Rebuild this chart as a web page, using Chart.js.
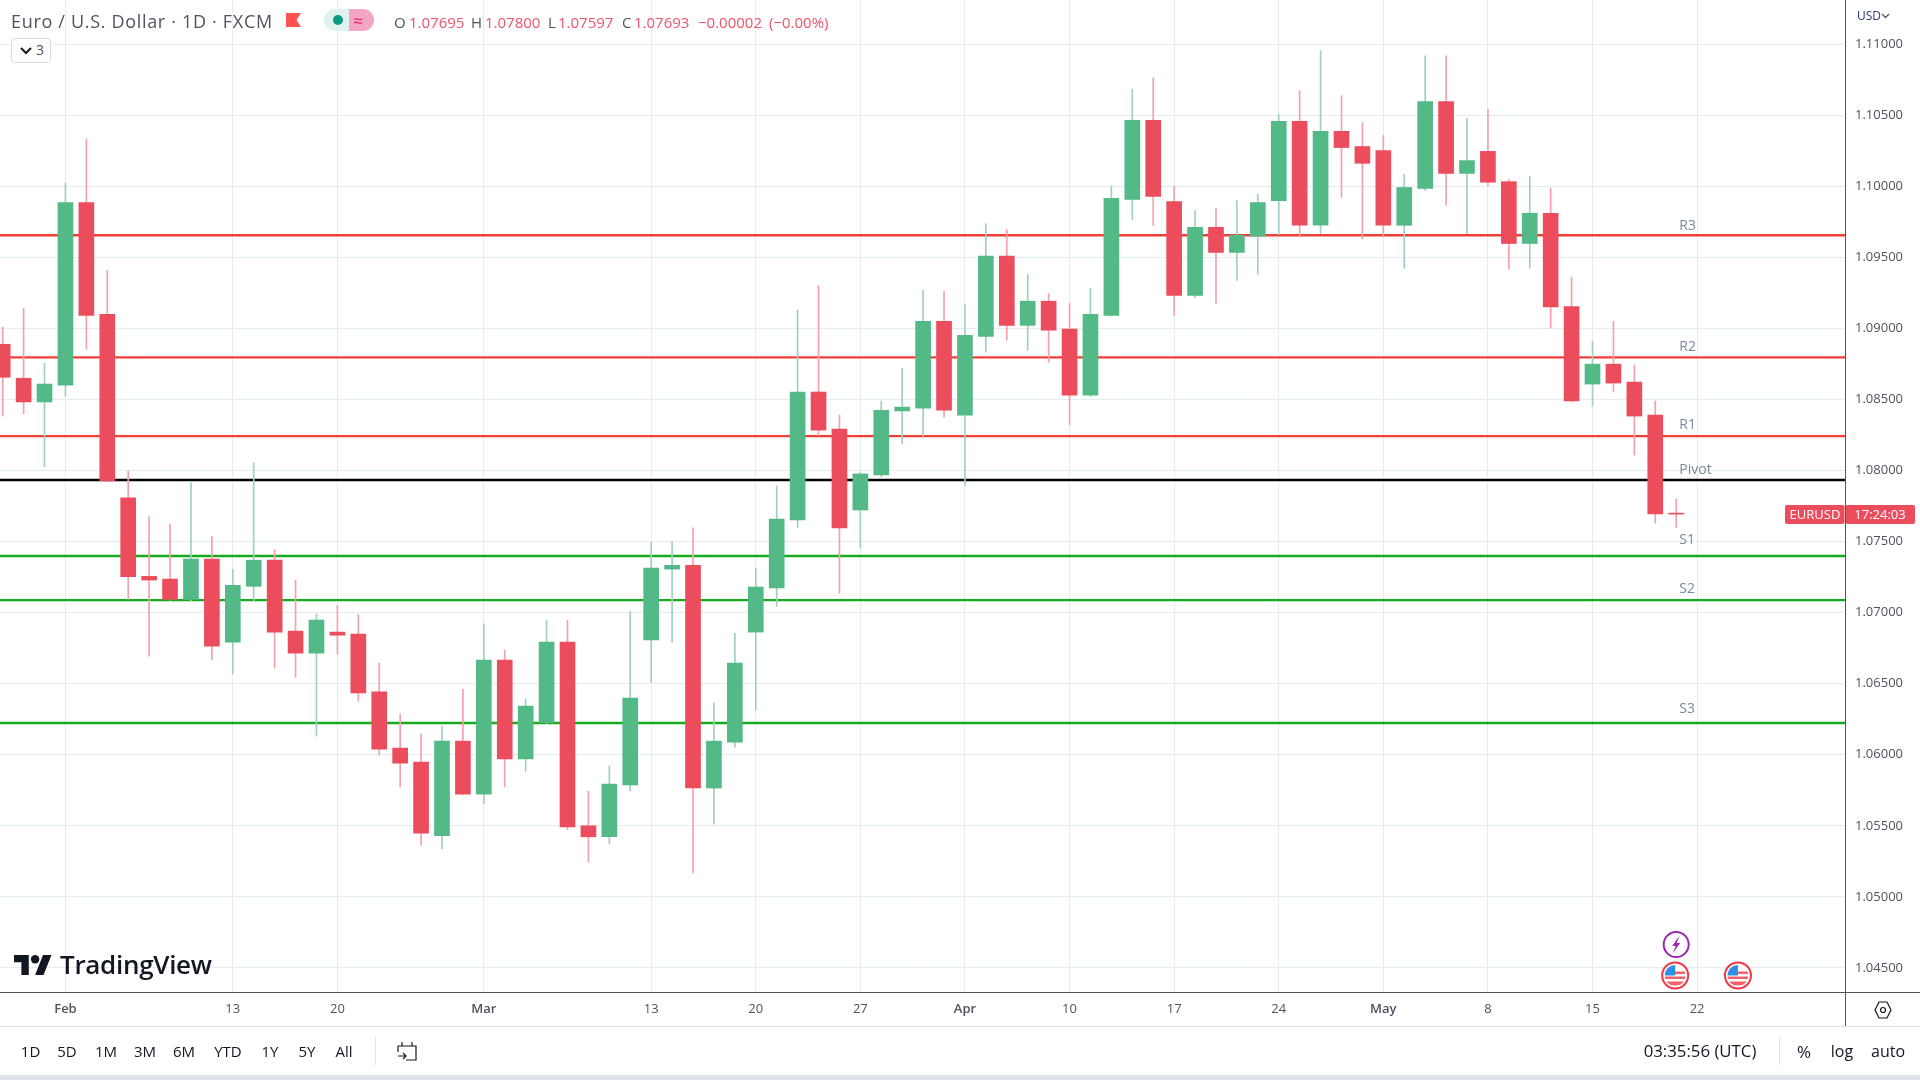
<!DOCTYPE html>
<html><head><meta charset="utf-8">
<script src="https://cdn.jsdelivr.net/npm/chart.js@4/dist/chart.umd.js"></script>
<style>
html,body{margin:0;padding:0;background:#fff;width:1920px;height:1080px;overflow:hidden;font-family:"Open Sans",sans-serif;color:#131722}
#c{position:absolute;left:0;top:0}
.t{position:absolute;white-space:nowrap;line-height:1}
.r{position:absolute}
</style></head><body>
<canvas id="c" width="1920" height="1080"></canvas>
<div id="ui"></div>
<script>
const opens=[1.08888,1.08649,1.08482,1.08600,1.09885,1.09099,1.07807,1.07255,1.07236,1.07093,1.07377,1.06793,1.07185,1.07369,1.06870,1.06715,1.06863,1.06849,1.06442,1.06047,1.05948,1.05430,1.06096,1.05723,1.06667,1.05970,1.06226,1.06793,1.05500,1.05423,1.05788,1.06808,1.07306,1.07333,1.05766,1.06088,1.06863,1.07173,1.07652,1.08552,1.08291,1.07722,1.07969,1.08419,1.08438,1.09050,1.08390,1.08944,1.09508,1.09021,1.09191,1.08995,1.08530,1.09091,1.09907,1.10463,1.09892,1.09232,1.09711,1.09534,1.09648,1.09899,1.10456,1.09725,1.10386,1.10279,1.10250,1.09725,1.09984,1.10596,1.10090,1.10245,1.10032,1.09597,1.09810,1.09154,1.08608,1.08748,1.08622,1.08390,1.07695];
const closes=[1.08656,1.08482,1.08608,1.09885,1.09091,1.07926,1.07253,1.07229,1.07093,1.07377,1.06764,1.07192,1.07369,1.06863,1.06715,1.06948,1.06841,1.06435,1.06040,1.05941,1.05449,1.06096,1.05723,1.06667,1.05970,1.06343,1.06793,1.05493,1.05423,1.05793,1.06398,1.07314,1.07333,1.05766,1.06096,1.06645,1.07180,1.07659,1.08552,1.08284,1.07596,1.07976,1.08424,1.08446,1.09050,1.08424,1.08951,1.09508,1.09021,1.09191,1.08987,1.08530,1.09099,1.09914,1.10463,1.09928,1.09232,1.09711,1.09534,1.09655,1.09885,1.10456,1.09725,1.10386,1.10272,1.10161,1.09725,1.09991,1.10596,1.10090,1.10180,1.10028,1.09597,1.09810,1.09150,1.08489,1.08748,1.08615,1.08383,1.07695,1.07693];
const highs=[1.09007,1.0914,1.08755,1.10023,1.10328,1.09408,1.07996,1.07676,1.07621,1.07913,1.07536,1.07304,1.08054,1.07444,1.07229,1.06989,1.0705,1.06989,1.06645,1.06287,1.06146,1.06202,1.06461,1.06921,1.06737,1.06391,1.06948,1.06948,1.05745,1.05921,1.07008,1.07495,1.075,1.07597,1.06364,1.06855,1.07314,1.07892,1.09128,1.09302,1.0839,1.0799,1.08489,1.08719,1.09268,1.09261,1.09169,1.09737,1.09696,1.09379,1.09246,1.09176,1.09283,1.10003,1.10681,1.10761,1.09999,1.09829,1.09844,1.09899,1.09943,1.10504,1.10673,1.10954,1.10637,1.10448,1.10357,1.10083,1.10918,1.10918,1.10475,1.1054,1.10047,1.10069,1.09986,1.0936,1.0891,1.0905,1.08741,1.08489,1.078];
const lows=[1.08383,1.084,1.08027,1.08523,1.08854,1.0792,1.07093,1.06694,1.07088,1.0708,1.06667,1.0657,1.07084,1.06609,1.06546,1.06132,1.06708,1.06379,1.05999,1.05774,1.05364,1.05338,1.0572,1.05657,1.05774,1.05885,1.0622,1.05473,1.05246,1.05372,1.05745,1.0651,1.06793,1.05168,1.05512,1.06054,1.06313,1.07045,1.07599,1.08245,1.07137,1.07456,1.07955,1.08189,1.08242,1.08375,1.07894,1.08833,1.08917,1.08847,1.08762,1.08322,1.0852,1.09087,1.09766,1.09725,1.09091,1.09215,1.09176,1.09338,1.09379,1.0966,1.09643,1.09667,1.09921,1.09628,1.09643,1.09423,1.0997,1.09866,1.09667,1.10003,1.09416,1.09423,1.09002,1.08482,1.08453,1.08552,1.08109,1.0763,1.07597];
const levelNames=['R3','R2','R1','Pivot','S1','S2','S3'];
const levelValues=[1.09655,1.08796,1.08242,1.07933,1.07398,1.07088,1.06224];
const levelColors=['#f23f35','#f23f35','#f23f35','#000000','#16ab1e','#16ab1e','#16ab1e'];
const levelLabelGap=[9,10,11,10,16,11,14];
const yTicks=[1.045,1.05,1.055,1.06,1.065,1.07,1.075,1.08,1.085,1.09,1.095,1.10,1.105,1.11];
const xTickIndex=[3,11,16,23,31,36,41,46,51,56,61,66,71,76,81];
const xTickLabels=['Feb','13','20','Mar','13','20','27','Apr','10','17','24','May','8','15','22'];
const monthLabels=['Feb','Mar','Apr','May'];
const newsIndex=80, flagIndexes=[80,83];
const lastPrice=1.07693;
const X_MIN=-0.129, X_MAX=88.07, Y_MIN=1.04331, Y_MAX=1.1131;
const UP='#53b987', DOWN='#eb4d5c', UPW='#9fcfc4', DOWNW='#f5a0aa', GRID='#e4ebf1';

const idx=opens.map((_,i)=>i);
const up=idx.map(i=>closes[i]>=opens[i]);
const levelDatasets=levelValues.map((v,i)=>({type:'line',order:5,data:[{x:X_MIN,y:v},{x:X_MAX,y:v}],borderColor:levelColors[i],borderWidth:2.4,pointRadius:0,tension:0}));

const overlay={id:'overlay',afterDatasetsDraw(ch){
  const {ctx,scales:{x,y}}=ch;
  ctx.save();
  ctx.font='14px "Open Sans"';ctx.fillStyle='#7a8a9e';ctx.textBaseline='middle';ctx.textAlign='left';
  levelNames.forEach((n,i)=>ctx.fillText(n,x.getPixelForValue(80.15),y.getPixelForValue(levelValues[i])-levelLabelGap[i]));
  // last price tags
  const py=y.getPixelForValue(lastPrice);
  ctx.fillStyle=DOWN;
  ctx.beginPath();ctx.roundRect(1785,py-9,59.5,19,2);ctx.fill();
  ctx.beginPath();ctx.roundRect(1845.5,py-9,69.5,19,2);ctx.fill();
  ctx.fillStyle='#fff';ctx.font='13px "Open Sans"';ctx.textAlign='center';
  ctx.fillText('EURUSD',1815,py+1);ctx.fillText('17:24:03',1880,py+1);
  // event markers
  const nx=x.getPixelForValue(newsIndex);
  ctx.lineWidth=2;ctx.strokeStyle='#9c27b0';ctx.fillStyle='#fff';
  ctx.beginPath();ctx.arc(nx,944.5,12.5,0,7);ctx.fill();ctx.stroke();
  ctx.fillStyle='#9c27b0';ctx.beginPath();
  ctx.moveTo(nx+3.5,935.5);ctx.lineTo(nx-4,946);ctx.lineTo(nx-0.5,946);ctx.lineTo(nx-3.5,953.5);ctx.lineTo(nx+4,943);ctx.lineTo(nx+0.5,943);ctx.closePath();ctx.fill();
  flagIndexes.forEach(k=>{
    const fx=x.getPixelForValue(k)-1, fy=975.5;
    ctx.save();
    ctx.beginPath();ctx.arc(fx,fy,14,0,7);ctx.fillStyle='#f23645';ctx.fill();
    ctx.beginPath();ctx.arc(fx,fy,12,0,7);ctx.fillStyle='#fff';ctx.fill();
    ctx.beginPath();ctx.arc(fx,fy,10.5,0,7);ctx.clip();
    ctx.fillStyle='#fff';ctx.fillRect(fx-11,fy-11,22,22);
    ctx.fillStyle='#f2616b';ctx.fillRect(fx-11,fy-4,22,2.5);ctx.fillRect(fx-11,fy+1,22,2.5);ctx.fillRect(fx-11,fy+6,22,4);
    ctx.fillStyle='#2f8fe6';ctx.fillRect(fx-11,fy-11,11,11);
    ctx.restore();
  });
  ctx.restore();
}};

const noPad=s=>{s.paddingTop=0;s.paddingBottom=0;s.paddingLeft=0;s.paddingRight=0;};
new Chart(document.getElementById('c'),{
  type:'bar',
  data:{datasets:[
    {label:'Body',order:1,grouped:false,data:idx.map(i=>({x:i,y:[Math.min(opens[i],closes[i]),Math.max(opens[i],closes[i])]})),backgroundColor:up.map(u=>u?UP:DOWN),barThickness:15,minBarLength:1,borderWidth:0},
    {label:'Wick',order:2,grouped:false,data:idx.map(i=>({x:i,y:[lows[i],highs[i]]})),backgroundColor:up.map(u=>u?UPW:DOWNW),barThickness:1,borderWidth:0},
    ...levelDatasets
  ]},
  options:{
    responsive:false,animation:false,devicePixelRatio:1,
    layout:{padding:0,autoPadding:false},
    plugins:{legend:{display:false},tooltip:{enabled:false}},
    scales:{
      x:{type:'linear',min:X_MIN,max:X_MAX,offset:false,
        afterBuildTicks:s=>{s.ticks=xTickIndex.map(v=>({value:v}))},
        afterFit:s=>{s.height=88;noPad(s);},
        border:{display:false},
        grid:{color:GRID,lineWidth:1,drawTicks:false,offset:false},
        ticks:{autoSkip:false,maxRotation:0,padding:9,color:'#50535e',
          font:c=>({family:'"Open Sans"',size:13,weight:monthLabels.includes(xTickLabels[c.index])?'600':'400'}),
          callback:v=>xTickLabels[xTickIndex.indexOf(v)]}},
      y:{type:'linear',position:'right',min:Y_MIN,max:Y_MAX,
        afterBuildTicks:s=>{s.ticks=yTicks.map(v=>({value:v}))},
        afterFit:s=>{s.width=75;noPad(s);},
        border:{display:false},
        grid:{color:GRID,lineWidth:1,drawTicks:false},
        ticks:{autoSkip:false,padding:10,crossAlign:'near',color:'#50535e',font:{family:'"Open Sans"',size:13},callback:v=>v.toFixed(5)}}
    }
  },
  plugins:[overlay]
});

const title='Euro / U.S. Dollar · 1D · FXCM';
const readout=[['O',394],['1.07695',409],['H',471],['1.07800',485],['L',548],['1.07597',558],['C',622],['1.07693',634],['−0.00002',698],['(−0.00%)',769]];
const readoutKeys=['O','H','L','C'];
const rangeButtons=[['1D',30.6],['5D',67],['1M',106],['3M',145],['6M',184],['YTD',228],['1Y',270],['5Y',307],['All',344]];
const toolsRight=[['03:35:56 (UTC)',1700,16.8],['%',1804,17],['log',1842,16],['auto',1888,16]];
let h='';
const T=(s,x,y,fs,col,extra='')=>`<div class="t" style="left:${x}px;top:${y}px;font-size:${fs}px;color:${col};${extra}">${s}</div>`;
const C=(s,x,y,fs,col,extra='')=>T(s,x,y,fs,col,'transform:translate(-50%,-50%);'+extra);
const R=(x,y,w,hh,bg,extra='')=>`<div class="r" style="left:${x}px;top:${y}px;width:${w}px;height:${hh}px;background:${bg};${extra}"></div>`;
h+=R(0,992,1920,1,'#50535e');
h+=R(1845,0,1,1026,'#50535e');
h+=R(0,1026,1920,1,'#e0e3eb');
h+=R(0,1075,1920,5,'#e0e3eb');
h+=R(375,1037,1,28,'#e0e3eb');
h+=R(1779,1037,1,28,'#e0e3eb');
h+=T(title,11,12,18,'#4f5260','letter-spacing:.68px');
h+=`<svg class="r" style="left:286px;top:12px" width="16" height="16"><path d="M0 1h15l-4.5 7 4.5 7H0z" fill="#ff5252"/></svg>`;
h+=R(324,9,25,22,'#dff2ef','border-radius:11px 0 0 11px');
h+=R(349,9,25,22,'#f3a6c3','border-radius:0 11px 11px 0');
h+=R(333,14,10,10,'#089981','border-radius:50%;top:15px');
h+=C('≈',358,20,17,'#e91e63');
readout.forEach(([s,x])=>{h+=T(s,x,15,15,readoutKeys.includes(s)?'#50535e':'#f0536a');});
h+=R(11,38,38,23,'#fff','border:1px solid #d8dbe3;border-radius:4px');
h+=`<svg class="r" style="left:19px;top:46px" width="14" height="10"><path d="M2 2l5 5 5-5" fill="none" stroke="#131722" stroke-width="2"/></svg>`;
h+=C('3',40,50,14,'#50535e');
h+=C('USD',1869,16,12,'#2a3a78');
h+=`<svg class="r" style="left:1881px;top:13px" width="9" height="7"><path d="M1 1l3.5 3.5L8 1" fill="none" stroke="#50535e" stroke-width="1.3"/></svg>`;
h+=`<svg class="r" style="left:14px;top:955px" width="38" height="20" viewBox="0 0 36 19" preserveAspectRatio="none"><path d="M14 19H7V7H0V0h14zM28 19h-8l7.5-19h8z" fill="#131722"/><circle cx="20" cy="4" r="4" fill="#131722"/></svg>`;
h+=T('TradingView',60,951,26,'#131722','font-weight:600;letter-spacing:-.3px');
rangeButtons.forEach(([s,x])=>{h+=C(s,x,1051,15,'#131722');});
h+=`<svg class="r" style="left:396px;top:1041px" width="22" height="20" fill="none" stroke="#131722" stroke-width="1.2"><path d="M2 5h18v14H10M2 5v6M6 1v4M16 1v4M2 15h8M7 12l3 3-3 3"/></svg>`;
toolsRight.forEach(([s,x,fs])=>{h+=C(s,x,1051,fs,'#131722');});
h+=`<svg class="r" style="left:1873px;top:1000px" width="20" height="20" fill="none" stroke="#131722" stroke-width="1.2"><path d="M6 2h8l4 8-4 8H6l-4-8z"/><circle cx="10" cy="10" r="2.5"/></svg>`;
document.getElementById('ui').innerHTML=h;
</script>
</body></html>
